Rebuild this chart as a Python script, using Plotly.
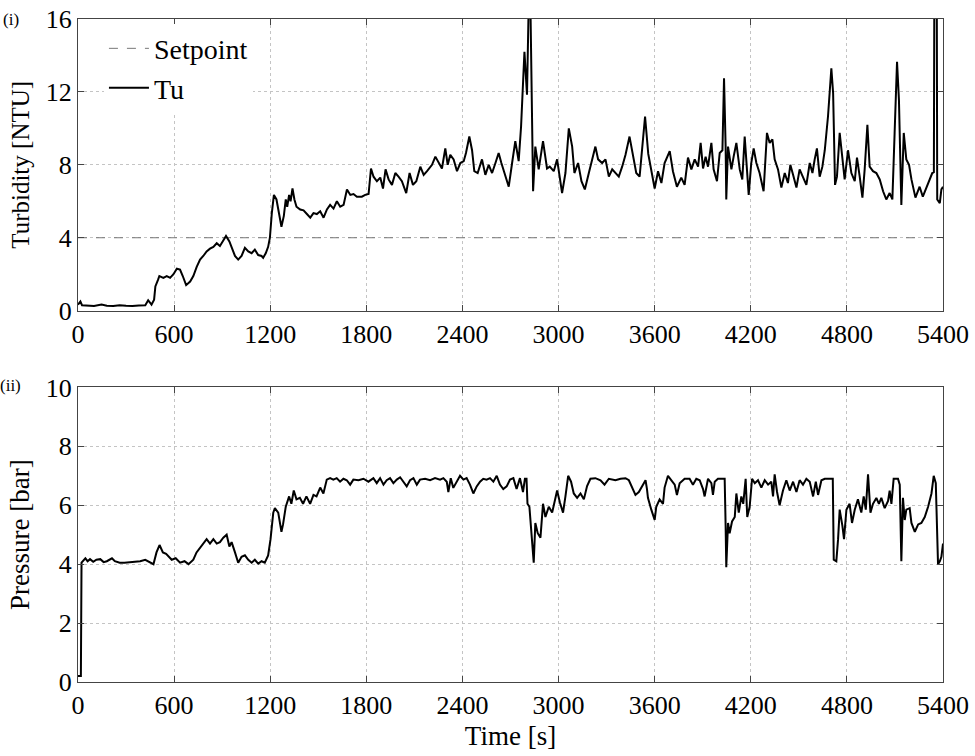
import plotly.graph_objects as go

# ---------------- data ----------------
x_ticks = [0, 600, 1200, 1800, 2400, 3000, 3600, 4200, 4800, 5400]
tu_ticks = [0, 4, 8, 12, 16]
p_ticks = [0, 2, 4, 6, 8, 10]

setpoint_t = [0, 5400]
setpoint_v = [4, 4]

tu_t = [0, 15, 25, 60, 100, 147, 180, 220, 260, 300, 340, 380, 420, 438, 459, 475,
        483, 500, 508, 533, 554, 575, 596, 617, 637, 654, 675, 700, 720, 741, 762, 782, 803,
        824, 845, 866, 886, 907, 924, 945, 959, 980, 1000, 1021, 1042, 1063, 1084, 1104,
        1125, 1146, 1156, 1172, 1187, 1198, 1210, 1223, 1239, 1256, 1270, 1285, 1297,
        1306, 1318, 1327, 1339, 1351, 1364, 1387, 1408, 1429, 1450, 1470, 1491, 1512,
        1533, 1554, 1574, 1595, 1616, 1637, 1658, 1679, 1700, 1720, 1741, 1772, 1793,
        1814, 1829, 1845, 1866, 1887, 1904, 1920, 1939, 1960, 1981, 2001, 2022, 2049,
        2070, 2091, 2112, 2137, 2158, 2179, 2210, 2231, 2251, 2272, 2293, 2308, 2324,
        2345, 2366, 2387, 2408, 2422, 2443, 2460, 2474, 2495, 2522, 2543, 2564, 2585,
        2606, 2626, 2643, 2662, 2689, 2710, 2730, 2751, 2766, 2787, 2803, 2814, 2824,
        2841, 2855, 2876, 2903, 2928, 2945, 2970, 2991, 3022, 3043, 3064, 3085, 3099,
        3122, 3143, 3164, 3189, 3210, 3230, 3247, 3272, 3293, 3314, 3335, 3355, 3376,
        3397, 3418, 3443, 3464, 3485, 3506, 3522, 3540, 3560, 3579, 3600, 3621, 3642,
        3662, 3694, 3714, 3739, 3766, 3787, 3808, 3829, 3850, 3871, 3887, 3902, 3918,
        3933, 3954, 3968, 3989, 4006, 4023, 4033, 4043, 4047, 4058, 4079, 4093, 4110,
        4131, 4147, 4162, 4176, 4187, 4203, 4218, 4235, 4255, 4280, 4301, 4318, 4335,
        4349, 4370, 4391, 4412, 4432, 4447, 4464, 4485, 4505, 4526, 4547, 4568, 4585,
        4599, 4613, 4630, 4647, 4662, 4682, 4703, 4714, 4726, 4738, 4755, 4772, 4786,
        4807, 4828, 4849, 4863, 4880, 4897, 4911, 4928, 4942, 4963, 4984, 5005, 5026,
        5046, 5067, 5084, 5098, 5113, 5125, 5134, 5140, 5155, 5171, 5188, 5203, 5228,
        5254, 5274, 5295, 5316, 5333, 5343, 5346, 5361, 5364, 5380, 5390, 5400]
tu_v = [0.33, 0.5, 0.3, 0.27, 0.25, 0.33, 0.27, 0.25, 0.3, 0.27, 0.25, 0.28, 0.3, 0.57, 0.33, 0.6,
        1.33, 1.7, 1.9, 1.8, 1.9, 1.8, 2.0, 2.3, 2.25, 1.9, 1.4, 1.6, 1.9, 2.4, 2.8, 3.0, 3.25,
        3.4, 3.5, 3.7, 3.55, 3.85, 4.1, 3.8, 3.45, 3.0, 2.8, 3.0, 3.45, 3.25, 3.15, 3.35,
        3.05, 3.0, 2.9, 3.15, 3.5, 4.0, 5.35, 6.35, 6.1, 5.35, 4.6, 5.2, 6.1,
        5.7, 6.35, 6.0, 6.7, 6.1, 5.7, 5.55, 5.5, 5.3, 5.1, 5.35, 5.3, 5.45,
        5.1, 5.55, 5.8, 5.6, 6.0, 5.7, 5.8, 6.65, 6.35, 6.4, 6.25, 6.25, 6.35,
        6.4, 7.8, 7.35, 7.1, 7.3, 6.7, 7.75, 7.2, 6.9, 7.55, 7.35, 7.1, 6.45,
        7.55, 6.9, 7.1, 7.9, 7.45, 7.65, 8.0, 8.45, 8.1, 7.8, 8.9, 8.0, 8.55,
        8.3, 7.65, 8.1, 8.2, 8.65, 9.55, 8.8, 7.65, 7.55, 8.3, 7.45, 8.0, 7.55,
        8.1, 8.65, 8.1, 7.55, 6.8, 8.1, 9.3, 8.2, 10.1, 14.2, 11.85, 17.0, 17.0,
        6.55, 9.0, 7.75, 9.3, 7.8, 7.9, 7.65, 8.3, 6.45, 7.55, 10.0, 9.0, 7.55,
        8.1, 7.1, 6.65, 7.55, 8.3, 9.0, 8.3, 8.1, 8.3, 7.35, 7.75, 7.55, 7.35,
        7.9, 8.55, 9.55, 8.45, 7.55, 7.35, 9.0, 10.65, 8.6, 7.75, 6.7, 7.65, 7.0,
        8.1, 8.75, 7.65, 6.8, 7.3, 6.9, 8.4, 7.75, 8.3, 7.9, 9.2, 7.8, 8.45,
        7.9, 9.2, 7.75, 7.1, 8.65, 8.8, 12.75, 9.0, 6.1, 9.0, 7.75, 8.45, 9.2,
        7.75, 7.2, 9.55, 7.8, 6.35, 8.1, 8.9, 8.1, 7.55, 6.55, 9.75, 9.2, 9.4,
        8.3, 7.75, 6.75, 7.55, 7.0, 8.0, 7.45, 6.75, 7.75, 7.35, 6.9, 8.1, 7.55,
        8.3, 8.9, 7.35, 7.9, 8.8, 10.65, 13.3, 11.95, 6.9, 7.35, 9.75, 8.4, 7.2,
        8.8, 7.55, 7.1, 8.4, 7.35, 6.2, 7.75, 10.2, 7.9, 7.65, 7.55, 7.2, 6.55,
        6.1, 6.45, 6.1, 9.75, 13.65, 11.55, 7.9, 5.8, 9.75, 8.3, 8.0, 7.2, 6.2,
        6.8, 6.25, 6.7, 7.1, 7.55, 7.6, 18.0, 18.0, 6.1, 5.9, 6.65, 6.8]

p_t = [0, 18, 22, 30, 46, 60, 75, 95, 115, 139, 160, 180, 212, 230, 260, 290, 330, 360,
       388, 420, 450, 471, 490, 509, 530, 550, 585, 610, 637, 665, 690, 720, 740, 762,
       782, 803, 824, 845, 866, 886, 907, 928, 945, 959, 980, 1000, 1021, 1042, 1063,
       1084, 1104, 1125, 1146, 1166, 1187, 1202, 1219, 1229, 1250, 1270, 1280, 1297,
       1318, 1332, 1347, 1364, 1385, 1405, 1426, 1449, 1470, 1489, 1512, 1532, 1553,
       1574, 1594, 1615, 1636, 1657, 1678, 1699, 1719, 1751, 1782, 1813, 1844, 1865,
       1886, 1907, 1927, 1948, 1969, 1990, 2011, 2031, 2052, 2073, 2094, 2115, 2135,
       2167, 2198, 2229, 2260, 2281, 2302, 2312, 2327, 2343, 2364, 2385, 2406, 2426,
       2447, 2468, 2489, 2510, 2530, 2551, 2572, 2593, 2614, 2634, 2655, 2676, 2697,
       2718, 2738, 2759, 2778, 2790, 2800, 2806, 2818, 2828, 2845, 2855, 2870,
       2887, 2903, 2918, 2939, 2960, 2991, 3008, 3028, 3043, 3060, 3078, 3095, 3116,
       3137, 3158, 3178, 3199, 3230, 3262, 3287, 3314, 3355, 3387, 3418, 3439, 3460,
       3480, 3501, 3522, 3543, 3552, 3558, 3579, 3600, 3610, 3631, 3652, 3662, 3683,
       3704, 3725, 3739, 3756, 3787, 3818, 3839, 3860, 3881, 3902, 3912, 3933, 3954,
       3964, 3975, 3995, 4027, 4037, 4043, 4047, 4058, 4068, 4083, 4100, 4110, 4125,
       4141, 4153, 4168, 4178, 4193, 4208, 4225, 4245, 4266, 4287, 4308, 4328, 4339,
       4349, 4364, 4380, 4401, 4422, 4443, 4464, 4485, 4505, 4526, 4547, 4568, 4589,
       4606, 4620, 4641, 4662, 4703, 4712, 4718, 4734, 4745, 4755, 4772, 4782, 4797,
       4817, 4832, 4849, 4869, 4890, 4905, 4918, 4932, 4947, 4963, 4984, 5000, 5015,
       5036, 5057, 5067, 5078, 5092, 5119, 5130, 5136, 5140, 5150, 5161, 5171, 5192,
       5203, 5224, 5245, 5265, 5286, 5307, 5328, 5342, 5355, 5361, 5369, 5380, 5390, 5400]
p_v = [0.2, 0.2, 4.05, 4.1, 4.2, 4.1, 4.17, 4.08, 4.15, 4.17, 4.07, 4.1, 4.2, 4.1, 4.05, 4.05, 4.07, 4.1,
       4.1, 4.15, 4.05, 4.0, 4.4, 4.65, 4.4, 4.35, 4.15, 4.2, 4.05, 4.1, 4.0, 4.15, 4.4, 4.55,
       4.7, 4.85, 4.7, 4.85, 4.7, 4.75, 4.9, 5.0, 4.6, 4.75, 4.4, 4.05, 4.25, 4.3, 4.15,
       4.05, 4.15, 4.02, 4.1, 4.05, 4.3, 4.85, 5.75, 5.9, 5.75, 5.1, 5.35, 5.95,
       6.3, 6.05, 6.5, 6.2, 6.25, 6.05, 6.3, 6.05, 6.35, 6.3, 6.6, 6.4, 6.87,
       6.92, 6.87, 6.92, 6.8, 6.9, 6.85, 6.7, 6.87, 6.85, 6.9, 6.8, 6.92, 6.75,
       6.92, 6.7, 6.85, 6.92, 6.75, 6.87, 6.95, 6.8, 6.64, 6.85, 6.92, 6.7, 6.87,
       6.9, 6.85, 6.92, 6.87, 6.92, 6.8, 6.45, 6.92, 6.59, 6.8, 7.0, 6.87, 6.92,
       6.7, 6.4, 6.64, 6.8, 6.9, 6.87, 6.92, 6.8, 7.0, 6.7, 6.55, 6.64, 6.87,
       6.92, 6.55, 6.92, 6.45, 6.9, 6.9, 6.05, 5.95, 5.15, 4.05, 5.4, 5.05,
       4.9, 6.05, 5.6, 5.95, 5.75, 6.5, 6.1, 5.75, 6.3, 7.0, 6.8, 6.4, 6.25,
       6.4, 6.2, 6.65, 6.9, 6.92, 6.85, 6.7, 6.9, 6.85, 6.9, 6.92, 6.85, 6.6,
       6.35, 6.45, 6.65, 6.85, 6.55, 6.25, 5.85, 5.5, 5.95, 6.2, 6.05, 6.6, 7.0,
       6.85, 6.7, 6.35, 6.75, 6.9, 6.9, 6.7, 6.9, 6.85, 6.55, 6.3, 6.9, 6.75,
       6.35, 6.8, 6.9, 6.9, 6.9, 5.3, 3.9, 5.4, 5.05, 5.45, 5.6, 6.4, 5.75,
       6.3, 6.05, 6.9, 5.6, 5.95, 6.9, 6.75, 6.85, 6.6, 6.85, 6.7, 6.8, 6.3,
       7.05, 6.45, 6.0, 6.5, 6.85, 6.5, 6.8, 6.45, 6.85, 6.7, 6.9, 6.8, 6.3,
       6.8, 6.35, 6.85, 6.9, 6.9, 6.9, 4.15, 4.1, 4.85, 5.85, 5.3, 4.85, 5.85,
       6.05, 5.4, 5.85, 6.2, 5.75, 6.3, 5.85, 7.05, 5.75, 6.05, 6.25, 6.05, 6.25,
       5.9, 6.15, 6.5, 6.05, 6.9, 6.9, 6.7, 5.15, 4.1, 6.25, 5.5, 5.85, 5.9,
       5.4, 5.1, 5.35, 5.4, 5.6, 5.95, 6.4, 7.0, 6.75, 5.85, 4.0, 4.1, 4.25, 4.7]

# ---------------- figure ----------------
FONT = "Liberation Serif"
fig = go.Figure()

fig.add_trace(go.Scatter(x=setpoint_t, y=setpoint_v, mode="lines", name="Setpoint",
                         line=dict(color="#777777", width=1, dash="dash"),
                         xaxis="x", yaxis="y"))
fig.add_trace(go.Scatter(x=tu_t, y=tu_v, mode="lines", name="Tu",
                         line=dict(color="black", width=2),
                         xaxis="x", yaxis="y"))
fig.add_trace(go.Scatter(x=p_t, y=p_v, mode="lines", name="Pressure", showlegend=False,
                         line=dict(color="black", width=2),
                         xaxis="x2", yaxis="y2"))

axis_common = dict(
    showline=True, linecolor="#444444", linewidth=1, mirror="ticks",
    ticks="inside", ticklen=6, tickcolor="#444444",
    showgrid=True, gridcolor="#c4c4c4", griddash="dot", gridwidth=1,
    zeroline=False, automargin=False,
    tickfont=dict(family=FONT, size=26, color="black"),
)

fig.update_layout(
    width=975, height=756,
    margin=dict(l=78, r=32, t=19, b=74),
    paper_bgcolor="white", plot_bgcolor="white",
    font=dict(family=FONT, color="black"),
    xaxis=dict(domain=[0, 1], anchor="y", range=[0, 5400], tickvals=x_ticks, **axis_common),
    yaxis=dict(domain=[0.5601, 1.0], anchor="x", range=[0, 16], tickvals=tu_ticks,
               title=dict(text="Turbidity [NTU]", font=dict(family=FONT, size=25), standoff=9),
               **axis_common),
    xaxis2=dict(domain=[0, 1], anchor="y2", range=[0, 5400], tickvals=x_ticks,
                title=dict(text="Time [s]", font=dict(family=FONT, size=27), standoff=6),
                **axis_common),
    yaxis2=dict(domain=[0.0, 0.4443], anchor="x2", range=[0, 10], tickvals=p_ticks,
                title=dict(text="Pressure [bar]", font=dict(family=FONT, size=27), standoff=8),
                **axis_common),
    legend=dict(x=0.03, y=0.993, xanchor="left", yanchor="top", bgcolor="white",
                borderwidth=0, font=dict(family=FONT, size=28, color="black"),
                tracegroupgap=0, itemwidth=40),
    showlegend=True,
    annotations=[
        dict(text="(i)", x=-0.078, y=1.0, xref="paper", yref="paper", showarrow=False,
             xanchor="center", yanchor="middle", font=dict(family=FONT, size=17)),
        dict(text="(ii)", x=-0.078, y=0.447, xref="paper", yref="paper", showarrow=False,
             xanchor="center", yanchor="middle", font=dict(family=FONT, size=17)),
    ],
)

fig.write_html("out.html")
